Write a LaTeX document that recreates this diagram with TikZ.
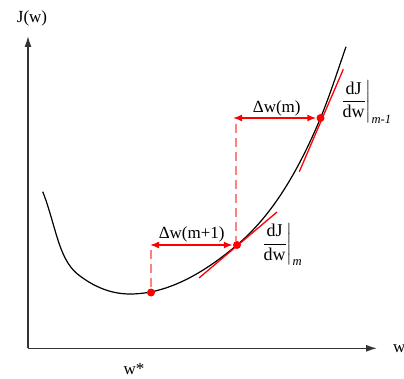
\documentclass[tikz,border=0pt]{standalone}
\usepackage{amsmath}
\usepackage{fontspec}
\setmainfont{Liberation Serif}
\usetikzlibrary{arrows.meta}
\begin{document}
\begin{tikzpicture}[x=1pt,y=-1pt,
  lbl/.style={font=\fontsize{17}{20}\selectfont, inner sep=0pt},
  derlbl/.style={font=\fontsize{18}{21}\selectfont, inner sep=0pt},
  axis/.style={draw=black!80, line width=1.4pt, -{Latex[length=11pt,width=7pt]}},
  curve/.style={black, line width=1.2pt},
  tang/.style={red, line width=1.3pt},
  dwarrow/.style={red, line width=1.5pt, {Latex[length=9pt,width=7pt]}-{Latex[length=9pt,width=7pt]}},
  guide/.style={red!50, line width=1.2pt, dash pattern=on 9pt off 5pt},
  dot/.style={circle, fill=red, inner sep=0pt, minimum size=8pt}]
\useasboundingbox (0,0) rectangle (404,379);
% axes
\coordinate (O) at (28,348.3);
\coordinate (ytip) at (28,36);
\coordinate (xtip) at (377,348.3);
\draw[axis] (O) -- (ytip);
\draw[axis] (O) -- (xtip);
\node[lbl, anchor=base] (jlab) at (32,22.5) {J(w)};
\node[lbl, anchor=base west] (wlab) at (393,352.7) {w};
\node[lbl, anchor=base] (wstar) at (134,374) {w*};
% curve
\draw[curve] (42.7,191.7)
  .. controls (47.5,203.1) and (52.2,221.3) .. (57,237)
  .. controls (64.7,262.3) and (72.3,270.3) .. (80,276)
  .. controls (96.7,288.5) and (113.3,294) .. (130,294)
  .. controls (165.7,294) and (201.3,275.2) .. (237,245)
  .. controls (264.8,221.5) and (292.7,184.7) .. (320.5,118)
  .. controls (329,97.6) and (337.5,71.4) .. (346,46.7);
% tangents
\coordinate (t1a) at (199,278);
\coordinate (t1b) at (277,212);
\coordinate (t2a) at (299.3,171.7);
\coordinate (t2b) at (343.3,69.3);
\draw[tang] (t1a) -- (t1b);
\draw[tang] (t2a) -- (t2b);
% points
\node[dot] (p0) at (151,292.5) {};
\node[dot] (p1) at (237,245) {};
\node[dot] (p2) at (320.5,118) {};
% guides
\coordinate (g2top) at (236,124);
\coordinate (g2bot) at (236,241);
\coordinate (g1top) at (151,250);
\coordinate (g1bot) at (151,288);
\draw[guide] (g2top) -- (g2bot);
\draw[guide] (g1top) -- (g1bot);
% delta arrows
\coordinate (a2) at (233,118);
\coordinate (a1) at (150,245);
\draw[dwarrow] (a2) -- (p2);
\draw[dwarrow] (a1) -- (p1);
\node[lbl, anchor=base] (dwm) at (276.7,112.7) {Δw(m)};
\node[lbl, anchor=base] (dwm1) at (191.7,239) {Δw(m+1)};
% derivative labels
\node[derlbl, anchor=base west] (der1) at (261,248.5)
  {$\left.\dfrac{\text{dJ}}{\text{dw}}\right|_{\text{\itshape m}}$};
\node[derlbl, anchor=base west] (der2) at (340,106)
  {$\left.\dfrac{\text{dJ}}{\text{dw}}\right|_{\text{\itshape m-1}}$};
\end{tikzpicture}
\end{document}
